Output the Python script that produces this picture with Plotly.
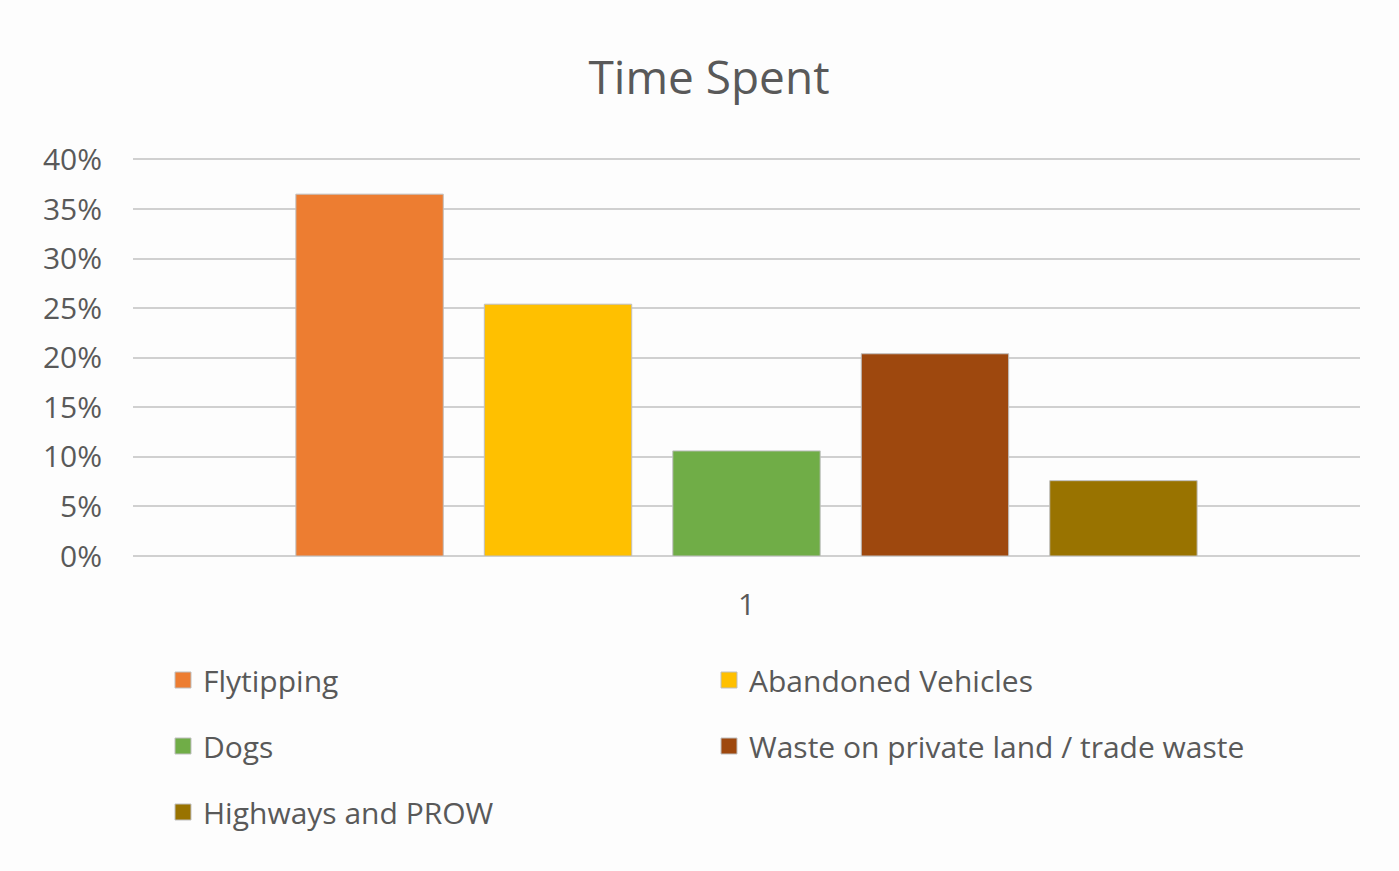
import plotly.graph_objects as go

categories = ["1"]
series_names = ["Flytipping", "Abandoned Vehicles", "Dogs",
                "Waste on private land / trade waste", "Highways and PROW"]
series_values = [0.365, 0.254, 0.106, 0.204, 0.076]
series_colors = ["#ED7D31", "#FFC000", "#70AD47", "#9E480E", "#997300"]
legend_ids = ["legend", "legend", "legend2", "legend2", "legend3"]
y_ticks = [0, 0.05, 0.10, 0.15, 0.20, 0.25, 0.30, 0.35, 0.40]
y_tick_labels = ["0%", "5%", "10%", "15%", "20%", "25%", "30%", "35%", "40%"]

W, H = 1399, 871
FONT = "Open Sans"
GREY = "#595959"

fig = go.Figure()
for name, val, col in zip(series_names, series_values, series_colors):
    fig.add_trace(go.Bar(
        x=categories, y=[val], name=name, showlegend=False,
        marker=dict(color=col, line=dict(color="#BFBFBF", width=1)),
    ))
# legend entries with larger square swatches
for name, col, lg in zip(series_names, series_colors, legend_ids):
    fig.add_trace(go.Scatter(
        x=[None], y=[None], mode="markers", name=name, legend=lg,
        marker=dict(symbol="square", size=18, color=col,
                    line=dict(color="#BFBFBF", width=1)),
    ))

def leg(ypix):
    return dict(
        orientation="h", xref="container", yref="container",
        x=163 / W, xanchor="left", y=1 - ypix / H, yanchor="middle",
        entrywidth=501, entrywidthmode="pixels",
        font=dict(family=FONT, size=30, color=GREY),
        bgcolor="rgba(0,0,0,0)", traceorder="normal",
    )

fig.update_layout(
    width=W, height=H,
    paper_bgcolor="#FDFDFD", plot_bgcolor="#FDFDFD",
    margin=dict(l=133, r=39, t=158, b=315),
    title=dict(text="Time Spent", x=709 / W, xanchor="center",
               y=1 - 78 / H, yanchor="middle",
               font=dict(family=FONT, size=46, color=GREY)),
    barmode="group", bargap=0.232, bargroupgap=0.218,
    showlegend=True,
    legend=leg(680), legend2=leg(746), legend3=leg(812),
    xaxis=dict(type="category", showgrid=False, showline=False, zeroline=False,
               tickfont=dict(family=FONT, size=30, color=GREY),
               ticks="", ticklabelstandoff=28),
    yaxis=dict(range=[0, 0.4015], tickvals=y_ticks, ticktext=y_tick_labels,
               showgrid=True, gridcolor="#D0D0D0", gridwidth=2,
               zeroline=True, zerolinecolor="#D0D0D0", zerolinewidth=2,
               showline=False, ticks="", ticklabelstandoff=30,
               tickfont=dict(family=FONT, size=30, color=GREY)),
)

fig.write_html("out.html", config={"displayModeBar": False},
               post_script="document.body.style.margin='0';")
